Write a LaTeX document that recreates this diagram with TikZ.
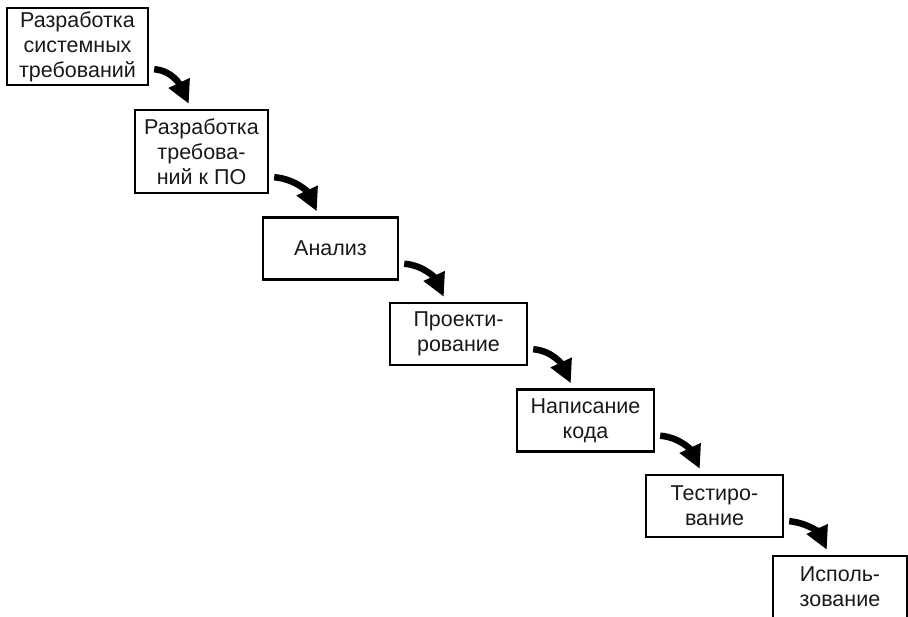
\documentclass[tikz,border=0pt]{standalone}
\usepackage{fontspec}
\setmainfont{Liberation Sans}
\usepackage{tikz}
\usetikzlibrary{arrows.meta}
\tikzset{
  stage_node/.style = {draw=black, line width=2.4pt, align=center,
    inner sep=0pt, minimum width=137pt, minimum height=62pt,
    font=\fontsize{21.5}{25}\selectfont, text=black!90},
  flow_arrow/.style = {line width=6.5pt, -{Triangle[length=23pt,width=22pt]}}
}
\begin{document}
\begin{tikzpicture}[x=1pt,y=1pt]
  \useasboundingbox (0,0) rectangle (908,-617);
  \node [stage_node, minimum width=141pt, minimum height=77pt] (sys) at (77.5,-46.5)
    {Разработка\\системных\\требований};
  \node [stage_node, minimum width=133pt, minimum height=83pt] (soft) at (201.5,-151.5)
    {Разработка\\требова-\\ний к ПО};
  \node [stage_node, minimum width=135pt] (anal) at (330.5,-248.5) {Анализ};
  \node [stage_node] (design) at (458.5,-334) {Проекти-\\рование};
  \node [stage_node] (code) at (585.5,-420.5) {Написание\\кода};
  \node [stage_node] (test) at (714.5,-506) {Тестиро-\\вание};
  \node [stage_node, minimum width=134pt] (use) at (840,-587) {Исполь-\\зование};
  % stages one after another
  \foreach \from/\to in {sys/soft, soft/anal, anal/design, design/code, code/test, test/use}
    \draw [flow_arrow] ([xshift=5pt,yshift=17pt]\from.south east)
      to[out=-5,in=115] ([xshift=55pt,yshift=5pt]\to.north west);
\end{tikzpicture}
\end{document}
